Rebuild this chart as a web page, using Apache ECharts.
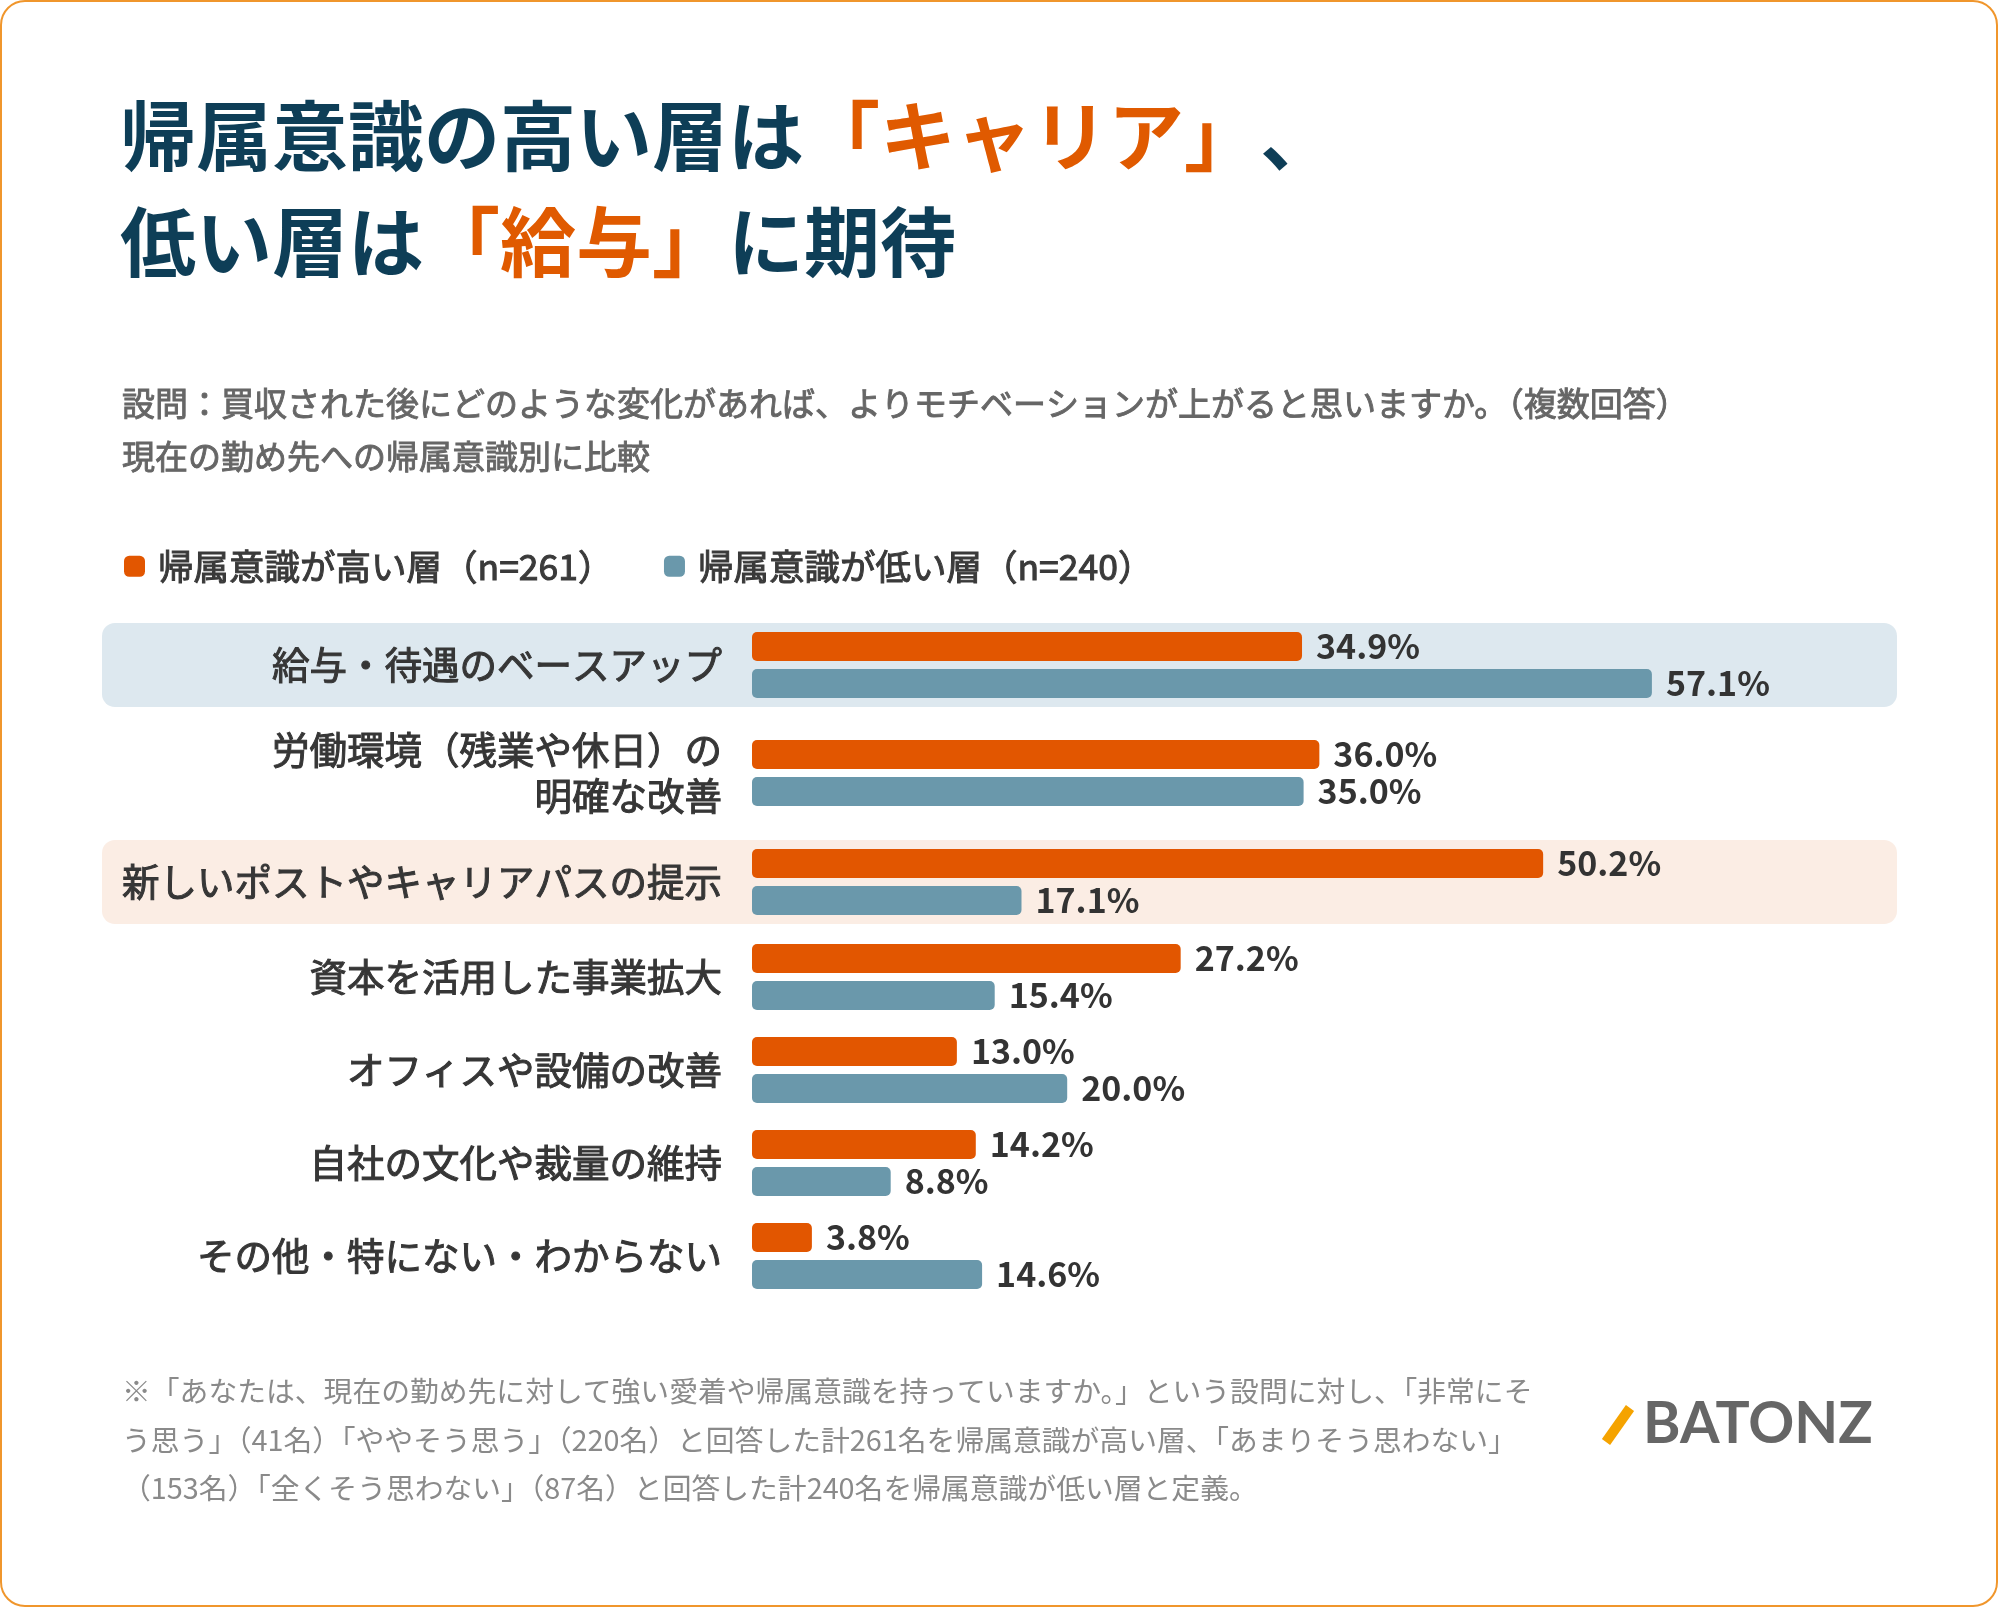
<!DOCTYPE html>
<html>
<head>
<meta charset="utf-8">
<script src="https://cdn.jsdelivr.net/npm/echarts@6/dist/echarts.min.js"></script>
<style>
  html, body { margin: 0; padding: 0; background: #fff; }
  #main { width: 1999px; height: 1608px; }
</style>
</head>
<body>
<div id="main"></div>
<script>
var myChart = echarts.init(document.getElementById('main'));

// 項目
var categories = [
    '給与・待遇のベースアップ',
    '労働環境（残業や休日）の\n明確な改善',
    '新しいポストやキャリアパスの提示',
    '資本を活用した事業拡大',
    'オフィスや設備の改善',
    '自社の文化や裁量の維持',
    'その他・特にない・わからない'
];
// 帰属意識が高い層 / 低い層 (%)
var highValues = [34.9, 36.0, 50.2, 27.2, 13.0, 14.2, 3.8];
var lowValues  = [57.1, 35.0, 17.1, 15.4, 20.0, 8.8, 14.6];
var seriesNames = ['帰属意識が高い層（n=261）', '帰属意識が低い層（n=240）'];

// layout
var FONT = '"Noto Sans CJK JP", "Noto Sans", sans-serif';
var ORANGE = '#e25600';
var BLUE = '#6a98ab';
var rowCenters = [665, 773, 882, 977, 1070, 1163, 1256];
var rowBg = { 0: '#dde8ef', 2: '#fbede4' };
var barLeft = 752, barW = 29, xMax = 70, pxPerUnit = 15.76;

var grids = [], xAxes = [], yAxes = [], series = [], graphics = [];

// 外枠
graphics.push({
    type: 'rect', z: -20,
    shape: { x: 1, y: 1, width: 1996, height: 1605, r: 24 },
    style: { fill: '#fff', stroke: '#f0962c', lineWidth: 2 }
});

var valueLabel = {
    show: true,
    position: 'right',
    distance: 14,
    fontFamily: FONT,
    fontSize: 34,
    fontWeight: 'bold',
    color: '#333',
    formatter: function (p) { return p.value.toFixed(1) + '%'; }
};

categories.forEach(function (cat, i) {
    var c = rowCenters[i];
    if (rowBg[i]) {
        graphics.push({
            type: 'rect', z: -10,
            shape: { x: 102, y: c - 42, width: 1795, height: 84, r: 13 },
            style: { fill: rowBg[i] }
        });
    }
    grids.push({ left: barLeft, top: c - 33, height: 66, width: xMax * pxPerUnit });
    xAxes.push({ type: 'value', gridIndex: i, min: 0, max: xMax, show: false });
    yAxes.push({
        type: 'category', gridIndex: i, inverse: true,
        data: [cat],
        axisLine: { show: false }, axisTick: { show: false }, splitLine: { show: false },
        axisLabel: {
            margin: 30, fontFamily: FONT, fontSize: 37.5, fontWeight: 'normal',
            color: '#363636', textBorderColor: '#363636', textBorderWidth: 1,
            lineHeight: 46, align: 'right'
        }
    });
    series.push({
        name: seriesNames[0], type: 'bar', xAxisIndex: i, yAxisIndex: i,
        barWidth: barW, barGap: '28%',
        itemStyle: { color: ORANGE, borderRadius: 5 },
        label: valueLabel,
        data: [highValues[i]]
    });
    series.push({
        name: seriesNames[1], type: 'bar', xAxisIndex: i, yAxisIndex: i,
        barWidth: barW, barGap: '28%',
        itemStyle: { color: BLUE, borderRadius: 5 },
        label: valueLabel,
        data: [lowValues[i]]
    });
});

// ロゴ
graphics.push({
    type: 'line',
    shape: { x1: 1606, y1: 1442, x2: 1630, y2: 1408 },
    style: { stroke: '#f5a300', lineWidth: 10 }
});
graphics.push({
    type: 'text', left: 1643, top: 1396,
    style: { text: 'BATONZ', fill: '#666', font: 'bold 57px Lato, "Noto Sans", sans-serif' }
});

option = {
    backgroundColor: '#fff',
    animation: false,
    title: [
        {
            left: 120, top: 83, padding: 0,
            text: '{n|帰属意識の高い層は}{o|「キャリア」}{n|、}\n{n|低い層は}{o|「給与」}{n|に期待}',
            textStyle: {
                rich: {
                    n: { fontFamily: FONT, fontSize: 76, fontWeight: 'bold', color: '#0e3e57', lineHeight: 106 },
                    o: { fontFamily: FONT, fontSize: 76, fontWeight: 'bold', color: '#e05a00', lineHeight: 106 }
                }
            }
        },
        {
            left: 122, top: 377, padding: 0,
            text: '設問：買収された後にどのような変化があれば、よりモチベーションが上がると思いますか。（複数回答）\n現在の勤め先への帰属意識別に比較',
            textStyle: {
                fontFamily: FONT, fontSize: 33, fontWeight: 'normal', color: '#666',
                textBorderColor: '#666', textBorderWidth: 0.9, lineHeight: 53
            }
        },
        {
            left: 122, top: 1367, padding: 0,
            text: '※「あなたは、現在の勤め先に対して強い愛着や帰属意識を持っていますか。」という設問に対し、「非常にそ\n' +
                  'う思う」（41名）「ややそう思う」（220名）と回答した計261名を帰属意識が高い層、「あまりそう思わない」\n' +
                  '（153名）「全くそう思わない」（87名）と回答した計240名を帰属意識が低い層と定義。',
            textStyle: { fontFamily: FONT, fontSize: 28.8, fontWeight: 'normal', color: '#8a8a8a', lineHeight: 48.5 }
        }
    ],
    legend: {
        left: 124, top: 548, padding: 0,
        data: seriesNames,
        icon: 'roundRect',
        itemWidth: 21, itemHeight: 21,
        itemGap: 50,
        textStyle: {
            fontFamily: FONT, fontSize: 35.5, fontWeight: 'normal', color: '#3a3a3a',
            textBorderColor: '#3a3a3a', textBorderWidth: 1, padding: [0, 0, 0, 8]
        },
        selectedMode: false
    },
    grid: grids,
    xAxis: xAxes,
    yAxis: yAxes,
    series: series,
    graphic: graphics
};

myChart.setOption(option);
</script>
</body>
</html>
